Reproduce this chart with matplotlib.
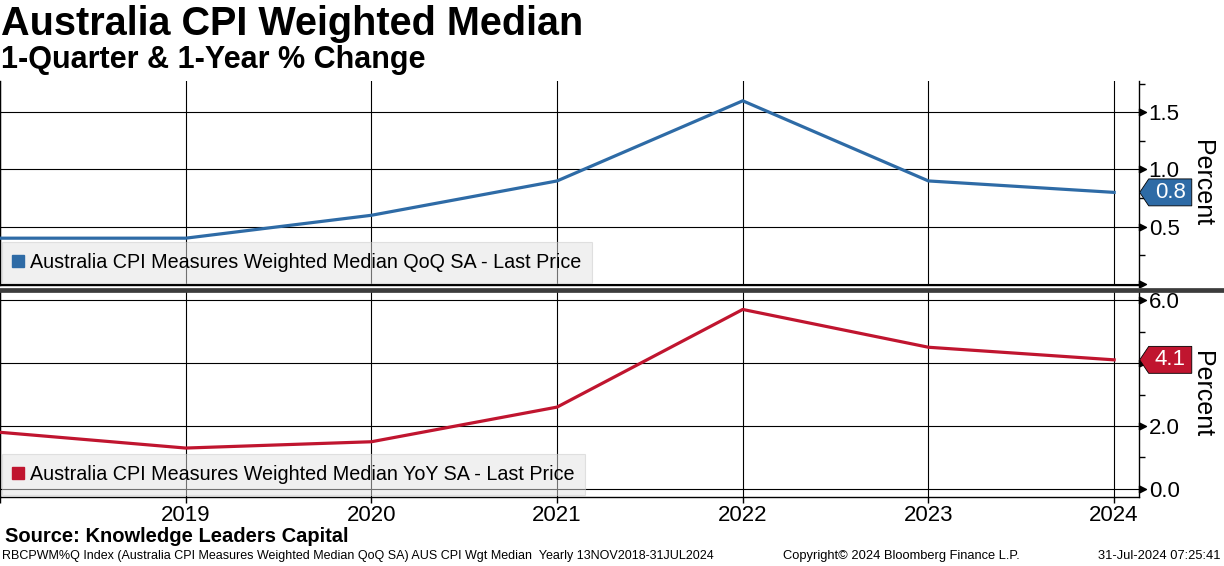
import matplotlib
matplotlib.use("Agg")
import matplotlib.pyplot as plt
import matplotlib.transforms as mtransforms
from matplotlib.patches import Polygon
from matplotlib.lines import Line2D

plt.rcParams['font.family'] = ['Liberation Sans', 'DejaVu Sans']

# data (yearly points)
years = [2018, 2019, 2020, 2021, 2022, 2023, 2024]
qoq = [0.4, 0.4, 0.6, 0.9, 1.6, 0.9, 0.8]
yoy = [1.8, 1.3, 1.5, 2.6, 5.7, 4.5, 4.1]

year_ticks = [2018, 2019, 2020, 2021, 2022, 2023, 2024]
year_labels = ['', '2019', '2020', '2021', '2022', '2023', '2024']
qoq_ticks = [0.0, 0.5, 1.0, 1.5]
qoq_labels = ['', '0.5', '1.0', '1.5']
yoy_ticks = [0.0, 2.0, 4.0, 6.0]
yoy_labels = ['0.0', '2.0', '', '6.0']

qoq_name = 'Australia CPI Measures Weighted Median QoQ SA - Last Price'
yoy_name = 'Australia CPI Measures Weighted Median YoY SA - Last Price'

BLUE = '#2e6ba6'
RED = '#c0152f'

W, H = 1224, 566
fig = plt.figure(figsize=(W / 100, H / 100), dpi=100)

ax1 = fig.add_axes([0, 1 - 285 / H, 1139 / W, 204 / H])
ax2 = fig.add_axes([0, 1 - 497 / H, 1139 / W, 205 / H])

# custom marker: triangle starting at the spine and pointing right
arrow = [(0, -1), (2, 0), (0, 1), (0, -1)]


def style_panel(ax, ticks, labels, ylim, minor):
    ax.set_xlim(2018.0, 2024.134)
    ax.set_ylim(*ylim)
    ax.yaxis.tick_right()
    ax.set_yticks(ticks)
    ax.set_yticklabels(labels)
    ax.set_yticks(minor, minor=True)
    ax.tick_params(axis='y', which='major', length=0, pad=7, labelsize=16)
    ax.tick_params(axis='y', which='minor', length=4, width=1, direction='out')
    ax.set_xticks(year_ticks)
    ax.grid(True, color='black', linewidth=0.8)
    ax.spines['top'].set_visible(False)
    for s in ['left', 'right', 'bottom']:
        ax.spines[s].set_linewidth(1.0)
    trans = ax.get_yaxis_transform()
    ax.plot([1] * len(ticks), ticks, linestyle='none', marker=arrow,
            markersize=10, color='black', transform=trans, clip_on=False)
    ax.set_ylabel('Percent', rotation=270, fontsize=18, va='center')
    ax.yaxis.set_label_position('right')
    ax.yaxis.set_label_coords(1.0655, 0.5)


def value_tag(ax, value, color):
    k = fig.dpi / 72.0
    trans = mtransforms.Affine2D().scale(k) + mtransforms.ScaledTranslation(
        1.0, value, ax.get_yaxis_transform())
    pts = [(0.5, 0), (7, 9.7), (38, 9.7), (38, -9.7), (7, -9.7)]
    poly = Polygon(pts, closed=True, facecolor=color, edgecolor='black',
                   linewidth=0.6, transform=trans, clip_on=False, zorder=10)
    ax.add_artist(poly)
    ax.text(22.5, 0, f'{value:.1f}', transform=trans, color='white',
            fontsize=16, ha='center', va='center', zorder=11, clip_on=False)


style_panel(ax1, qoq_ticks, qoq_labels, (-0.009, 1.773), [0.25, 0.75, 1.25, 1.75])
style_panel(ax2, yoy_ticks, yoy_labels, (-0.254, 6.254), [1.0, 3.0, 5.0])

ax1.tick_params(axis='x', which='both', length=0, labelbottom=False)
ax2.set_xticklabels(year_labels)
ax2.tick_params(axis='x', length=4, width=1, direction='out', pad=1.5, labelsize=16)

ax1.plot(years, qoq, color=BLUE, linewidth=2.3, label=qoq_name, zorder=3)
ax2.plot(years, yoy, color=RED, linewidth=2.3, label=yoy_name, zorder=3)

value_tag(ax1, qoq[-1], BLUE)
value_tag(ax2, yoy[-1], RED)

for ax, color, name in [(ax1, BLUE, qoq_name), (ax2, RED, yoy_name)]:
    h = Line2D([], [], linestyle='none', marker='s', markersize=8, color=color)
    leg = ax.legend([h], [name], loc='lower left', bbox_to_anchor=(0, 0),
                    borderaxespad=0.1, fontsize=14.2, handlelength=0.5,
                    handletextpad=0.35, borderpad=0.55, fancybox=False,
                    facecolor='#e2e2e2', edgecolor='#c8c8c8', framealpha=0.5)
    leg.get_frame().set_linewidth(0.8)
    leg.set_zorder(5)

# divider between the two panels
fig.add_artist(Line2D([0, 1], [1 - 289.5 / H, 1 - 289.5 / H], color='#3c3c3c',
                      linewidth=3.4, transform=fig.transFigure))

fig.text(0.001, 1 - 24 / H, 'Australia CPI Weighted Median', fontsize=28.5,
         fontweight='bold', va='center', ha='left')
fig.text(0.001, 1 - 60 / H, '1-Quarter & 1-Year % Change', fontsize=22,
         fontweight='bold', va='center', ha='left')
fig.text(5 / W, 1 - 537 / H, 'Source: Knowledge Leaders Capital', fontsize=14.5,
         fontweight='bold', va='center', ha='left')
fig.text(2 / W, 1 - 556 / H,
         'RBCPWM%Q Index (Australia CPI Measures Weighted Median QoQ SA) AUS CPI Wgt Median  Yearly 13NOV2018-31JUL2024',
         fontsize=9.0, va='center', ha='left')
fig.text(783 / W, 1 - 556 / H, 'Copyright\u00a9 2024 Bloomberg Finance L.P.',
         fontsize=9.3, va='center', ha='left')
fig.text(1221 / W, 1 - 556 / H, '31-Jul-2024 07:25:41', fontsize=9.3,
         va='center', ha='right')

fig.savefig('out.png', dpi=100)
